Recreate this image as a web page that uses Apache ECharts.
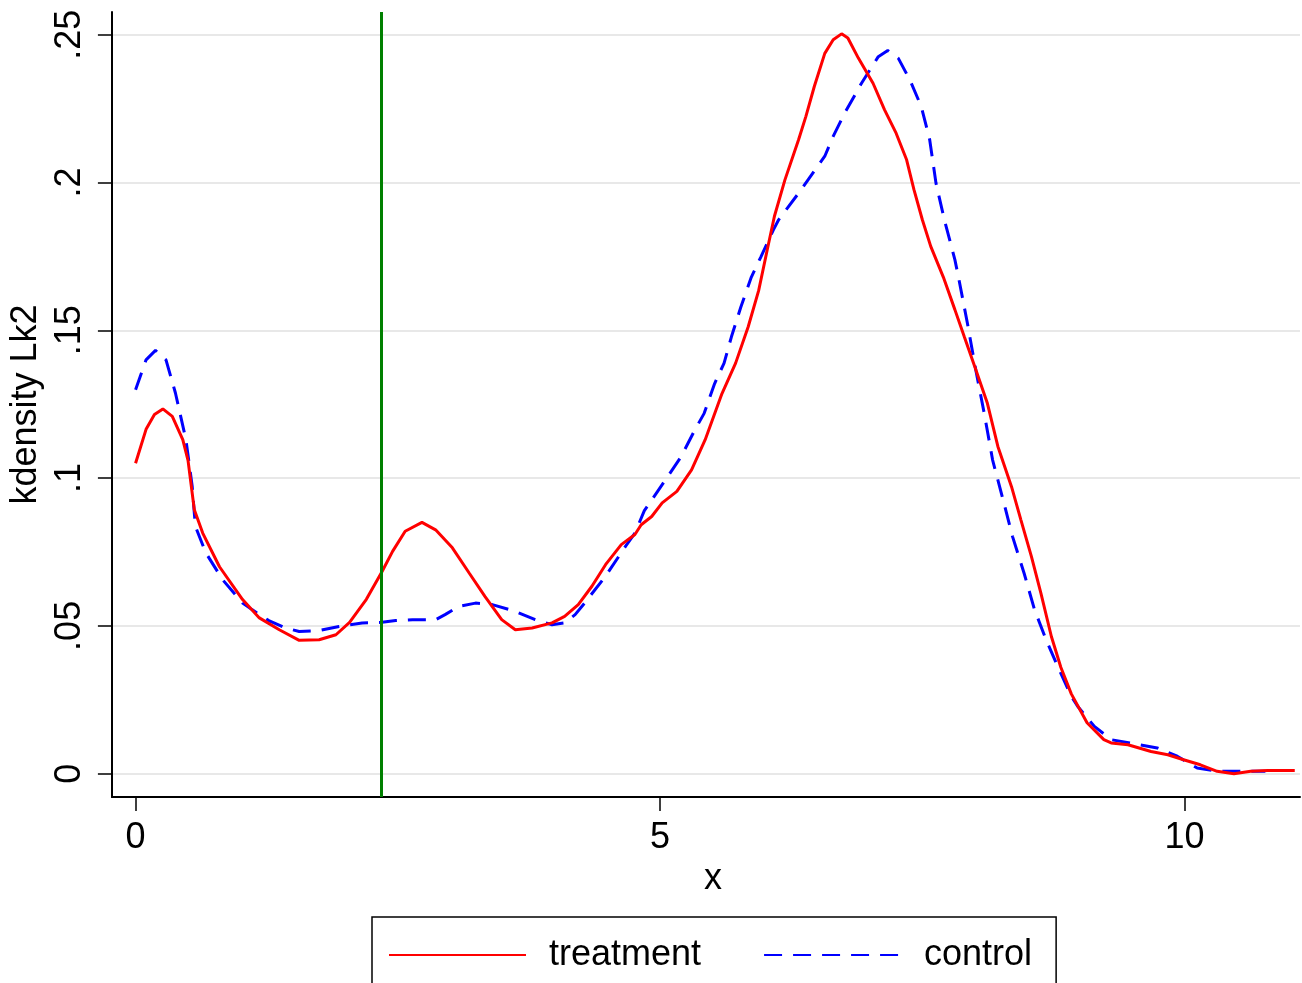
<!DOCTYPE html>
<html>
<head>
<meta charset="utf-8">
<style>
  html, body { margin: 0; padding: 0; background: #ffffff; }
  #chart { width: 1302px; height: 983px; }
</style>
<script src="https://cdn.jsdelivr.net/npm/echarts@6/dist/echarts.min.js"></script>
</head>
<body>
<div id="chart"></div>
<script>
// ---- Data ----
const treatmentX = [0.00,0.10,0.18,0.26,0.35,0.45,0.50,0.56,0.64,0.80,1.02,1.18,1.37,1.56,1.75,1.91,2.04,2.20,2.35,2.45,2.57,2.73,2.86,3.02,3.18,3.33,3.49,3.62,3.78,3.97,4.09,4.22,4.35,4.48,4.63,4.76,4.82,4.92,5.02,5.16,5.30,5.43,5.59,5.72,5.84,5.94,6.02,6.09,6.19,6.32,6.39,6.47,6.57,6.65,6.73,6.79,6.89,7.03,7.14,7.25,7.35,7.42,7.50,7.58,7.70,7.81,7.90,8.00,8.12,8.22,8.35,8.44,8.54,8.63,8.73,8.82,8.92,9.07,9.23,9.30,9.46,9.68,9.84,9.99,10.15,10.31,10.47,10.63,10.79,11.05];
const treatmentY = [0.1050,0.1165,0.1215,0.1234,0.1209,0.1130,0.1060,0.0893,0.0814,0.0700,0.0589,0.0527,0.0487,0.0451,0.0453,0.0470,0.0512,0.0590,0.0684,0.0752,0.0820,0.0850,0.0825,0.0764,0.0679,0.0600,0.0521,0.0487,0.0493,0.0510,0.0532,0.0572,0.0634,0.0707,0.0775,0.0809,0.0842,0.0870,0.0916,0.0955,0.1028,0.1130,0.1286,0.1389,0.1512,0.1635,0.1770,0.1886,0.2009,0.2145,0.2224,0.2325,0.2437,0.2483,0.2503,0.2489,0.2421,0.2336,0.2246,0.2167,0.2077,0.1976,0.1874,0.1784,0.1680,0.1570,0.1478,0.1377,0.1253,0.1107,0.0971,0.0858,0.0734,0.0611,0.0464,0.0360,0.0270,0.0172,0.0115,0.0104,0.0098,0.0075,0.0064,0.0047,0.0030,0.0008,0.0000,0.0008,0.0011,0.0011];

const controlX = [0.00,0.10,0.19,0.29,0.38,0.48,0.54,0.57,0.67,0.83,0.95,1.02,1.11,1.27,1.43,1.56,1.75,1.94,2.16,2.35,2.48,2.64,2.86,2.95,3.08,3.24,3.40,3.62,3.81,3.97,4.09,4.19,4.28,4.48,4.67,4.76,4.85,5.04,5.20,5.33,5.42,5.52,5.61,5.68,5.77,5.87,5.96,6.08,6.13,6.32,6.57,6.65,6.76,6.92,7.08,7.17,7.27,7.38,7.49,7.57,7.63,7.71,7.81,7.85,7.93,8.01,8.09,8.17,8.27,8.36,8.47,8.57,8.68,8.79,8.92,8.98,9.14,9.30,9.52,9.74,9.93,10.12,10.31,10.77];
const controlY = [0.1299,0.1400,0.1432,0.1400,0.1288,0.1130,0.0972,0.0837,0.0747,0.0656,0.0606,0.0577,0.0555,0.0518,0.0493,0.0481,0.0484,0.0498,0.0510,0.0512,0.0518,0.0521,0.0521,0.0538,0.0566,0.0577,0.0572,0.0549,0.0521,0.0504,0.0510,0.0538,0.0577,0.0668,0.0769,0.0814,0.0890,0.0988,0.1072,0.1162,0.1219,0.1320,0.1389,0.1478,0.1579,0.1680,0.1748,0.1840,0.1874,0.1964,0.2089,0.2156,0.2235,0.2336,0.2426,0.2447,0.2421,0.2348,0.2257,0.2145,0.1998,0.1874,0.1739,0.1670,0.1523,0.1365,0.1219,0.1061,0.0926,0.0802,0.0678,0.0554,0.0453,0.0363,0.0262,0.0228,0.0160,0.0115,0.0101,0.0087,0.0059,0.0019,0.0008,0.0008];

const cutoff = 2.34;
const xTicks = [0, 5, 10];
const xTickLabels = ['0', '5', '10'];
const yTicks = [0, 0.05, 0.10, 0.15, 0.20, 0.25];
const yTickLabels = ['0', '.05', '.1', '.15', '.2', '.25'];
const seriesNames = ['treatment', 'control'];
const xTitle = 'x';
const yTitle = 'kdensity Lk2';

const zip = (xs, ys) => xs.map((x, i) => [x, ys[i]]);
const FONT = 'Liberation Sans, Arial, Helvetica, sans-serif';

const chart = echarts.init(document.getElementById('chart'), null, { renderer: 'canvas' });
chart.setOption({
  backgroundColor: '#ffffff',
  animation: false,
  grid: { left: 110, top: 12, width: 1190, height: 785, containLabel: false },
  legend: {
    data: seriesNames,
    left: 372, top: 917,
    orient: 'horizontal',
    borderColor: '#000000', borderWidth: 1.5, borderRadius: 0,
    padding: [20, 24, 40, 16],
    itemWidth: 137, itemHeight: 20, itemGap: 62,
    itemStyle: { opacity: 0, borderWidth: 0 },
    textStyle: { fontSize: 36, color: '#000000', fontFamily: FONT, padding: [0, 0, 0, 18] }
  },
  xAxis: {
    type: 'value', min: -0.2256, max: 11.10,
    name: xTitle, nameLocation: 'middle', nameGap: 61,
    nameTextStyle: { fontSize: 36, color: '#000000', fontFamily: FONT, padding: [0, 0, 0, 14] },
    axisLine: { show: true, onZero: false, lineStyle: { color: '#000000', width: 2 } },
    axisTick: { show: true, customValues: xTicks, length: 14, lineStyle: { color: '#000000', width: 1.5 } },
    axisLabel: {
      customValues: xTicks, margin: 23, fontSize: 36, color: '#000000', fontFamily: FONT,
      formatter: v => xTickLabels[xTicks.indexOf(v)] ?? ''
    },
    splitLine: { show: false }
  },
  yAxis: {
    type: 'value', min: -0.0079, max: 0.2577,
    name: yTitle, nameLocation: 'middle', nameGap: 62, nameRotate: 90,
    nameTextStyle: { fontSize: 36, color: '#000000', fontFamily: FONT },
    axisLine: { show: true, onZero: false, lineStyle: { color: '#000000', width: 2 } },
    axisTick: { show: true, customValues: yTicks, length: 14, lineStyle: { color: '#000000', width: 1.5 } },
    axisLabel: {
      customValues: yTicks, rotate: 90, margin: 24, fontSize: 36, color: '#000000', fontFamily: FONT,
      formatter: v => { const i = yTicks.findIndex(t => Math.abs(t - v) < 1e-9); return i >= 0 ? yTickLabels[i] : ''; }
    },
    splitLine: { show: true, lineStyle: { color: '#e8e8e8', width: 2 } }
  },
  series: [
    {
      name: seriesNames[0], type: 'line', data: zip(treatmentX, treatmentY),
      symbol: 'none', showSymbol: false, smooth: false, z: 3,
      lineStyle: { color: '#ff0000', width: 3, type: 'solid' },
      itemStyle: { color: '#ff0000' }
    },
    {
      name: seriesNames[1], type: 'line', data: zip(controlX, controlY),
      symbol: 'none', showSymbol: false, smooth: false, z: 2,
      lineStyle: { color: '#0000ff', width: 3, type: [18, 11] },
      itemStyle: { color: '#0000ff' }
    },
    {
      name: 'cutoff', type: 'line', data: [], z: 4,
      markLine: {
        silent: true, symbol: 'none', animation: false,
        label: { show: false },
        lineStyle: { color: '#008000', width: 3, type: 'solid' },
        data: [{ xAxis: cutoff }]
      }
    }
  ]
});
</script>
</body>
</html>
